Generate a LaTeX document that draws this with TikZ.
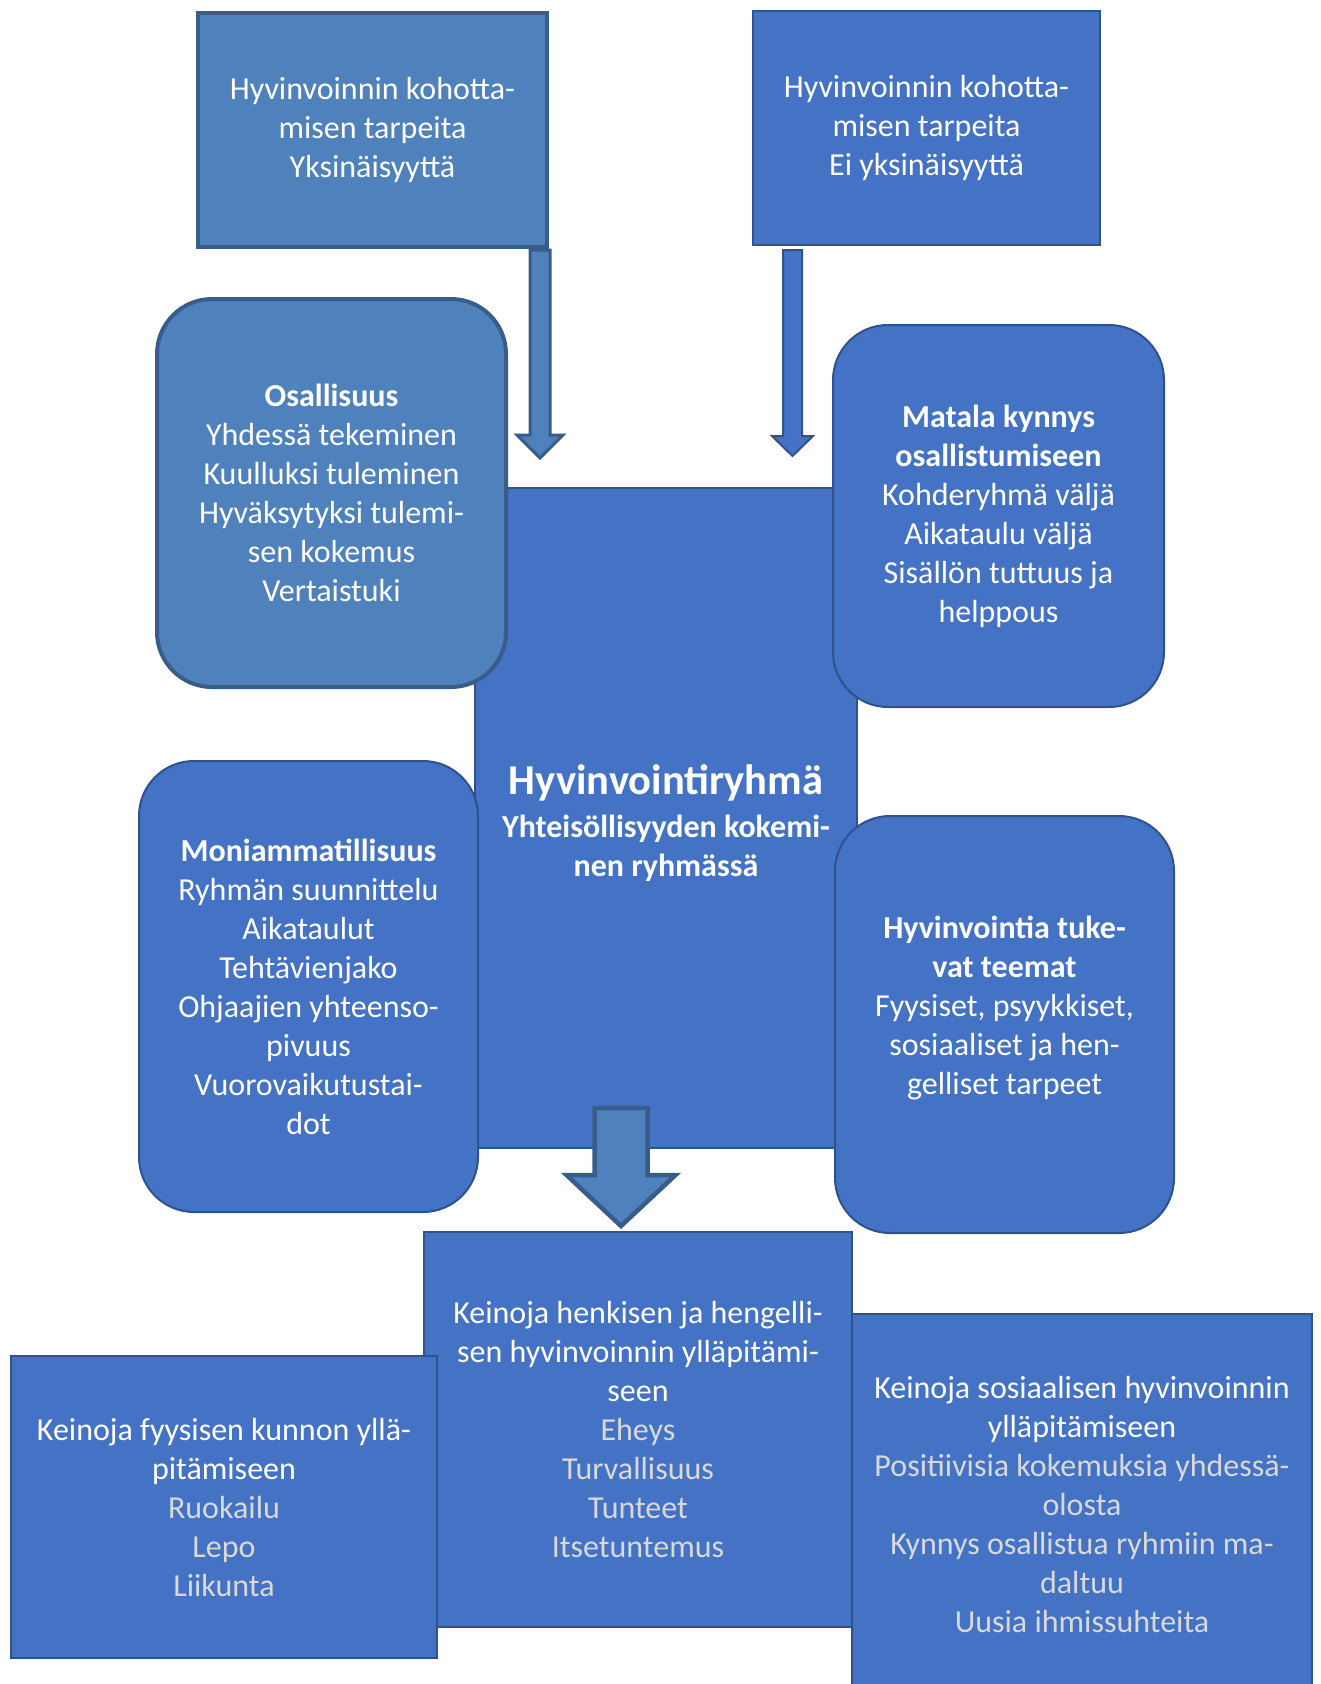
\documentclass[tikz,border=0pt]{standalone}
\usepackage{fontspec}
\setmainfont{Carlito}
\usetikzlibrary{calc}
\definecolor{vaalea}{HTML}{4F81BD}
\definecolor{vaaleareuna}{HTML}{385D8A}
\definecolor{sininen}{HTML}{4472C4}
\definecolor{sinireuna}{HTML}{2F528F}
\definecolor{harmaa}{HTML}{D9D9D9}
\tikzset{
    %Define style for boxes
    laatikko/.style={
           rectangle,
           draw=sinireuna, line width=2pt,
           fill=sininen,
           text=white,
           inner sep=0pt,
           align=center,
           font=\fontsize{32pt}{39pt}\selectfont},
    % Define style for rounded boxes
    kulma/.style={
           laatikko,
           rounded corners=55pt},
    % Define style for block arrows
    pil/.style={
           draw=sinireuna, line width=2pt,
           fill=sininen,
           line join=miter}
}

\begin{document}
\begin{tikzpicture}[x=1pt, y=-1pt,
vaal/.style={fill=vaalea, draw=vaaleareuna, line width=4pt},
koko/.style 2 args={minimum width=#1pt, minimum height=#2pt}
]
\useasboundingbox (0,0) rectangle (1320,1684);
%Nodes
\node[laatikko, vaal, koko={349}{234}] (hyv1) at (372.5,130) {Hyvinvoinnin kohotta-\\misen tarpeita\\Yksinäisyyttä};
\node[laatikko, koko={347}{234}] (hyv2) at (926.5,128) {Hyvinvoinnin kohotta-\\misen tarpeita\\Ei yksinäisyyttä};
\node[laatikko, koko={382}{660}] (ryhma) at (666,818) {\rule{0pt}{40pt}{\fontsize{42.5pt}{46pt}\selectfont\textbf{Hyvinvointiryhmä}}\\[4pt]\textbf{Yhteisöllisyyden kokemi-}\\\textbf{nen ryhmässä}};
% Arrows from the top boxes
\coordinate (p1a) at ($(hyv1.south east)+(-9,1)$);
\coordinate (p1b) at ($(p1a |- ryhma.north)+(0,-29)$);
\draw[pil, vaal, line width=3pt] let \p1=(p1a), \p2=(p1b) in
  (\x1-10pt,\y1) -- (\x1-10pt,\y2+23pt) -- (\x1-23pt,\y2+23pt) -- (\x2,\y2)
  -- (\x1+23pt,\y2+23pt) -- (\x1+10pt,\y2+23pt) -- (\x1+10pt,\y1) -- cycle;
\coordinate (p2a) at ($(hyv2.south west)+(40.5,4)$);
\coordinate (p2b) at ($(p2a |- ryhma.north)+(0,-31)$);
\draw[pil] let \p1=(p2a), \p2=(p2b) in
  (\x1-9.5pt,\y1) -- (\x1-9.5pt,\y2+20pt) -- (\x1-20.5pt,\y2+20pt) -- (\x2,\y2)
  -- (\x1+20.5pt,\y2+20pt) -- (\x1+9.5pt,\y2+20pt) -- (\x1+9.5pt,\y1) -- cycle;
% Side boxes
\node[kulma, vaal, koko={349}{388}] (osal) at (331.5,493) {\textbf{Osallisuus}\\Yhdessä tekeminen\\Kuulluksi tuleminen\\Hyväksytyksi tulemi-\\sen kokemus\\Vertaistuki};
\node[kulma, koko={331}{382}] (matala) at (998.5,516) {\textbf{Matala kynnys}\\\textbf{osallistumiseen}\\Kohderyhmä väljä\\Aikataulu väljä\\Sisällön tuttuus ja\\helppous};
\node[kulma, koko={339}{451}] (moni) at (308.5,986.5) {\textbf{Moniammatillisuus}\\Ryhmän suunnittelu\\Aikataulut\\Tehtävienjako\\Ohjaajien yhteenso-\\pivuus\\Vuorovaikutustai-\\dot};
\node[kulma, koko={339}{417}] (teemat) at (1004.5,1024.5) {\textbf{Hyvinvointia tuke-}\\\textbf{vat teemat}\\Fyysiset, psyykkiset,\\sosiaaliset ja hen-\\gelliset tarpeet\\\mbox{}};
% Bottom boxes
\node[laatikko, koko={428}{395}] (keino2) at (638,1429.5) {Keinoja henkisen ja hengelli-\\sen hyvinvoinnin ylläpitämi-\\seen\\\textcolor{harmaa}{Eheys}\\\textcolor{harmaa}{Turvallisuus}\\\textcolor{harmaa}{Tunteet}\\\textcolor{harmaa}{Itsetuntemus}};
\node[laatikko, koko={426}{302}] (keino1) at (224,1507) {Keinoja fyysisen kunnon yllä-\\pitämiseen\\\textcolor{harmaa}{Ruokailu}\\\textcolor{harmaa}{Lepo}\\\textcolor{harmaa}{Liikunta}};
\node[laatikko, koko={460}{380}] (keino3) at (1082,1504) {Keinoja sosiaalisen hyvinvoinnin\\ylläpitämiseen\\\textcolor{harmaa}{Positiivisia kokemuksia yhdessä-}\\\textcolor{harmaa}{olosta}\\\textcolor{harmaa}{Kynnys osallistua ryhmiin ma-}\\\textcolor{harmaa}{daltuu}\\\textcolor{harmaa}{Uusia ihmissuhteita}};
% Big arrow down
\coordinate (p3a) at ($(ryhma.south)+(-45,-41)$);
\coordinate (p3b) at ($(p3a |- keino2.north)+(0,-5)$);
\draw[pil, vaal, line width=4.5pt] let \p1=(p3a), \p2=(p3b) in
  (\x1-26.5pt,\y1) -- (\x1-26.5pt,\y2+51pt) -- (\x1-54.5pt,\y2+51pt) -- (\x2,\y2)
  -- (\x1+54.5pt,\y2+51pt) -- (\x1+26.5pt,\y2+51pt) -- (\x1+26.5pt,\y1) -- cycle;
\end{tikzpicture}
\end{document}
